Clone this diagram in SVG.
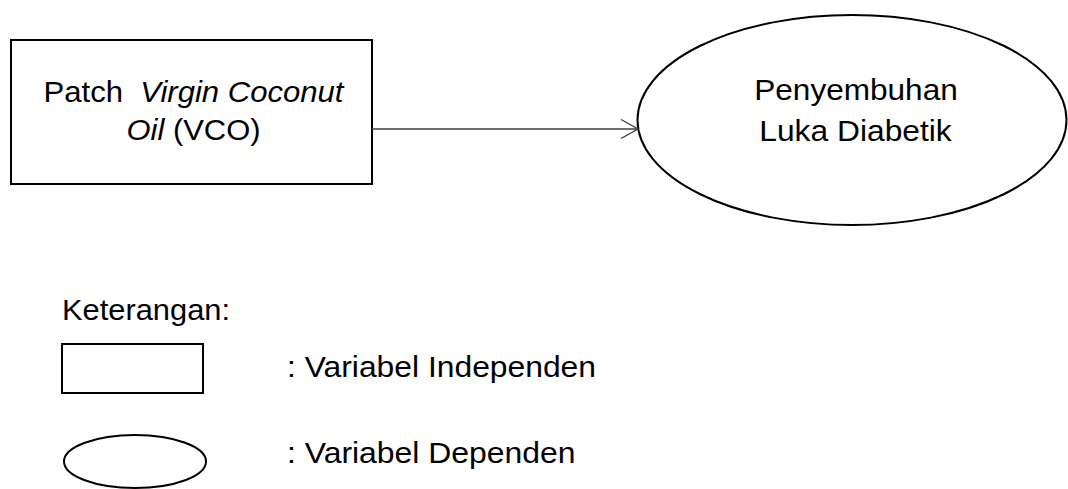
<svg xmlns="http://www.w3.org/2000/svg" width="1068" height="489" viewBox="0 0 1068 489">
  <style>
    .box { fill: #ffffff; stroke: #000000; stroke-width: 2; }
    .lbl { font-family: "Liberation Sans", Arial, sans-serif; font-size: 30px; fill: #000000; }
    .it { font-style: italic; }
    .link { stroke: #404040; stroke-width: 1.4; fill: none; }
  </style>
  <defs>
    <marker id="open-arrow" markerWidth="20" markerHeight="22" refX="18" refY="11" orient="auto" markerUnits="userSpaceOnUse">
      <path d="M1,1.5 L18,11 L1,20.5" fill="none" stroke="#404040" stroke-width="1.4"/>
    </marker>
  </defs>
  <rect width="1068" height="489" fill="#ffffff"/>

  <!-- independent variable -->
  <g id="node-vco">
    <rect class="box" x="11" y="40" width="361" height="144"/>
    <text class="lbl" text-anchor="middle" x="193.5" y="101.5" xml:space="preserve" textLength="300" lengthAdjust="spacingAndGlyphs">Patch  <tspan class="it">Virgin Coconut</tspan></text>
    <text class="lbl" text-anchor="middle" x="193.5" y="140" textLength="134" lengthAdjust="spacingAndGlyphs"><tspan class="it">Oil</tspan> (VCO)</text>
  </g>

  <!-- dependent variable -->
  <g id="node-luka">
    <ellipse class="box" cx="852" cy="120" rx="214.5" ry="105"/>
    <text class="lbl" text-anchor="middle" x="856" y="99.5" textLength="203.5" lengthAdjust="spacingAndGlyphs">Penyembuhan</text>
    <text class="lbl" text-anchor="middle" x="855.5" y="140.5" textLength="192.5" lengthAdjust="spacingAndGlyphs">Luka Diabetik</text>
  </g>

  <!-- connectors -->
  <g id="connectors">
    <line class="link" x1="372" y1="129" x2="638" y2="129" marker-end="url(#open-arrow)"/>
  </g>

  <!-- legend -->
  <g id="legend">
    <text class="lbl" x="62" y="320" textLength="168" lengthAdjust="spacingAndGlyphs">Keterangan:</text>
    <rect class="box" x="62" y="344" width="141" height="49"/>
    <text class="lbl" x="287" y="376.5" textLength="309" lengthAdjust="spacingAndGlyphs">: Variabel Independen</text>
    <ellipse class="box" cx="135" cy="461.5" rx="71" ry="26.5"/>
    <text class="lbl" x="287" y="463" textLength="288.5" lengthAdjust="spacingAndGlyphs">: Variabel Dependen</text>
  </g>
</svg>
